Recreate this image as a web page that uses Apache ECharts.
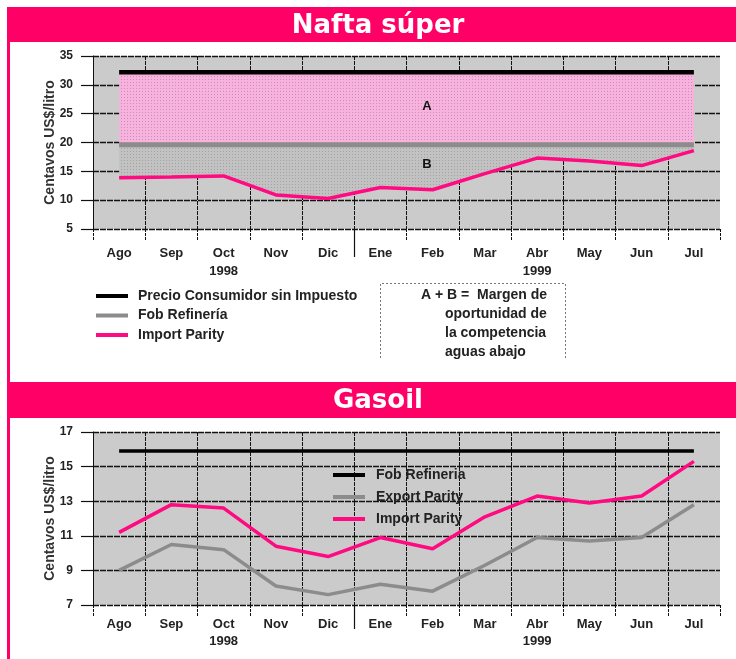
<!DOCTYPE html>
<html>
<head>
<meta charset="utf-8">
<script src="https://cdn.jsdelivr.net/npm/echarts@6/dist/echarts.min.js"></script>
<style>
  html, body { margin: 0; padding: 0; background: #fff; }
  #chart { width: 736px; height: 659px; }
</style>
</head>
<body>
<div id="chart"></div>
<script>
// Months, Aug 1998 – Jul 1999
const months = ['Ago', 'Sep', 'Oct\n1998', 'Nov', 'Dic', 'Ene', 'Feb', 'Mar', 'Abr\n1999', 'May', 'Jun', 'Jul'];
const yearBreak = 'Ene';

// Nafta súper, centavos US$/litro
const naftaPrecio = [32.2, 32.2, 32.2, 32.2, 32.2, 32.2, 32.2, 32.2, 32.2, 32.2, 32.2, 32.2];
const naftaFob = [19.6, 19.6, 19.6, 19.6, 19.6, 19.6, 19.6, 19.6, 19.6, 19.6, 19.6, 19.6];
const naftaImport = [13.9, 14.0, 14.2, 10.9, 10.3, 12.2, 11.8, 14.6, 17.3, 16.8, 16.0, 18.6];

// Gasoil, centavos US$/litro
const gasoilFob = [15.9, 15.9, 15.9, 15.9, 15.9, 15.9, 15.9, 15.9, 15.9, 15.9, 15.9, 15.9];
const gasoilExport = [9.0, 10.5, 10.2, 8.1, 7.6, 8.2, 7.8, 9.3, 10.9, 10.7, 10.9, 12.8];
const gasoilImport = [11.2, 12.8, 12.6, 10.4, 9.8, 10.9, 10.25, 12.1, 13.3, 12.9, 13.3, 15.3];

// Axis ranges
const naftaAxis = { min: 5, max: 35, interval: 5 };
const gasoilAxis = { min: 7, max: 17, interval: 2 };

const PINK = '#ff0066';
const LINE_PINK = '#ff0a80';
const FOB_GRAY = '#8c8c8c';
const PLOT_BG = '#cbcbcb';
const FONT = '"Liberation Sans", Arial, Helvetica, sans-serif';

// small dotted screen textures for the A / B areas
function dotPattern(bg, dot) {
  const c = document.createElement('canvas');
  c.width = 3; c.height = 3;
  const g = c.getContext('2d');
  g.fillStyle = bg; g.fillRect(0, 0, 3, 3);
  g.fillStyle = dot; g.fillRect(1, 1, 1, 1);
  return { image: c, repeat: 'repeat' };
}
const pinkScreen = dotPattern('#f9b2dc', '#b994c4');
const grayScreen = dotPattern('#c2c2c2', '#a2a2a2');

const breakIndex = months.indexOf(yearBreak);

function catAxis(gridIndex, margin, lineHeight) {
  return {
    type: 'category', gridIndex, data: months, boundaryGap: true,
    axisLine: { show: false },
    axisTick: { show: true, length: 12, lineStyle: { color: '#111', width: 1, type: [3, 1] } },
    axisLabel: { margin, fontFamily: FONT, fontSize: 13, fontWeight: 'bold', color: '#222', lineHeight },
    splitLine: { show: true, showMaxLine: false, lineStyle: { color: '#111', width: 1, type: [4, 1] } }
  };
}
function breakAxis(gridIndex, len) {
  return {
    type: 'value', gridIndex, position: 'bottom', min: 0, max: months.length,
    axisLine: { show: false }, axisLabel: { show: false }, splitLine: { show: false },
    axisTick: { show: true, length: len, customValues: [breakIndex], lineStyle: { color: '#111', width: 1.2 } }
  };
}
function valAxis(gridIndex, range) {
  return {
    type: 'value', gridIndex, min: range.min, max: range.max, interval: range.interval,
    name: 'Centavos US$/litro', nameLocation: 'middle', nameGap: 36, nameMoveOverlap: false,
    nameTextStyle: { fontFamily: FONT, fontSize: 14, fontWeight: 'bold', color: '#333' },
    axisLine: { show: true, lineStyle: { color: '#111', width: 1, type: [4, 1] } },
    axisTick: { show: true, length: 12, lineStyle: { color: '#111', width: 1.2 } },
    axisLabel: { margin: 20, fontFamily: FONT, fontSize: 12, fontWeight: 'bold', color: '#222' },
    splitLine: { show: true, lineStyle: { color: '#121212', width: 1.4, type: [6, 1] } }
  };
}

const legendText = { fontFamily: FONT, fontSize: 14, fontWeight: 'bold', color: '#222', lineHeight: 16 };

const chart = echarts.init(document.getElementById('chart'), null, { renderer: 'canvas' });
chart.setOption({
  animation: false,
  backgroundColor: '#fff',
  grid: [
    { left: 93, top: 56, width: 627, height: 173, show: true, backgroundColor: PLOT_BG, borderWidth: 0 },
    { left: 93, top: 432, width: 627, height: 173, show: true, backgroundColor: PLOT_BG, borderWidth: 0 }
  ],
  xAxis: [catAxis(0, 15, 18), breakAxis(0, 28), catAxis(1, 11, 17), breakAxis(1, 24)],
  yAxis: [valAxis(0, naftaAxis), valAxis(1, gasoilAxis)],
  legend: [
    {
      orient: 'vertical', left: 96, top: 288, padding: 0, itemWidth: 32, itemHeight: 4, itemGap: 3.5,
      icon: 'rect', selectedMode: false,
      textStyle: Object.assign({ padding: [0, 0, 0, 5] }, legendText),
      data: [
        { name: 'Precio Consumidor sin Impuesto', itemStyle: { color: '#000' } },
        { name: 'Fob Refinería', itemStyle: { color: FOB_GRAY } },
        { name: 'Import Parity', itemStyle: { color: LINE_PINK } }
      ]
    },
    {
      orient: 'vertical', left: 333, top: 467, padding: 0, itemWidth: 32, itemHeight: 4, itemGap: 6,
      icon: 'rect', selectedMode: false,
      textStyle: Object.assign({ padding: [0, 0, 0, 6] }, legendText),
      data: [
        { name: 'Fob Refineria', itemStyle: { color: '#000' } },
        { name: 'Export Parity', itemStyle: { color: FOB_GRAY } },
        { name: 'Import Parity', itemStyle: { color: LINE_PINK } }
      ]
    }
  ],
  series: [
    // Nafta: stacked so that B fills Import→Fob and A fills Fob→Precio
    {
      name: 'Import Parity', type: 'line', xAxisIndex: 0, yAxisIndex: 0, stack: 'nafta',
      data: naftaImport, symbol: 'none', z: 4,
      itemStyle: { color: LINE_PINK }, lineStyle: { color: LINE_PINK, width: 3.5 }
    },
    {
      name: 'Fob Refinería', type: 'line', xAxisIndex: 0, yAxisIndex: 0, stack: 'nafta',
      data: naftaFob.map((v, i) => v - naftaImport[i]), symbol: 'none', z: 3,
      itemStyle: { color: FOB_GRAY }, lineStyle: { color: FOB_GRAY, width: 5 },
      areaStyle: { color: grayScreen, opacity: 1 }
    },
    {
      name: 'Precio Consumidor sin Impuesto', type: 'line', xAxisIndex: 0, yAxisIndex: 0, stack: 'nafta',
      data: naftaPrecio.map((v, i) => v - naftaFob[i]), symbol: 'none', z: 2,
      itemStyle: { color: '#000' }, lineStyle: { color: '#000', width: 4.5 },
      areaStyle: { color: pinkScreen, opacity: 1 }
    },
    // Gasoil
    {
      name: 'Fob Refineria', type: 'line', xAxisIndex: 2, yAxisIndex: 1,
      data: gasoilFob, symbol: 'none', z: 3,
      itemStyle: { color: '#000' }, lineStyle: { color: '#000', width: 3.5 }
    },
    {
      name: 'Export Parity', type: 'line', xAxisIndex: 2, yAxisIndex: 1,
      data: gasoilExport, symbol: 'none', z: 3,
      itemStyle: { color: FOB_GRAY }, lineStyle: { color: FOB_GRAY, width: 3.5 }
    },
    {
      name: 'Import Parity', type: 'line', xAxisIndex: 2, yAxisIndex: 1,
      data: gasoilImport, symbol: 'none', z: 4,
      itemStyle: { color: LINE_PINK }, lineStyle: { color: LINE_PINK, width: 3.5 }
    }
  ],
  graphic: [
    // page frame and title bands
    { type: 'rect', shape: { x: 7, y: 7, width: 3, height: 652 }, style: { fill: PINK }, silent: true },
    { type: 'rect', shape: { x: 7, y: 7, width: 729, height: 35 }, style: { fill: PINK }, silent: true },
    { type: 'rect', shape: { x: 7, y: 382, width: 729, height: 36 }, style: { fill: PINK }, silent: true },
    { type: 'text', x: 378, y: 26, silent: true,
      style: { text: 'Nafta súper', fill: '#fff', fontFamily: '"DejaVu Sans", Verdana, sans-serif', fontSize: 26, fontWeight: 'bold', align: 'center', verticalAlign: 'middle' } },
    { type: 'text', x: 378, y: 401, silent: true,
      style: { text: 'Gasoil', fill: '#fff', fontFamily: '"DejaVu Sans", Verdana, sans-serif', fontSize: 26, fontWeight: 'bold', align: 'center', verticalAlign: 'middle' } },
    // area labels
    { type: 'text', x: 427, y: 106, z: 10, silent: true,
      style: { text: 'A', fill: '#111', fontFamily: FONT, fontSize: 13, fontWeight: 'bold', align: 'center', verticalAlign: 'middle' } },
    { type: 'text', x: 427, y: 164, z: 10, silent: true,
      style: { text: 'B', fill: '#111', fontFamily: FONT, fontSize: 13, fontWeight: 'bold', align: 'center', verticalAlign: 'middle' } },
    // note box
    { type: 'polyline', silent: true,
      shape: { points: [[380.5, 358], [380.5, 283.5], [565.5, 283.5], [565.5, 358]] },
      style: { fill: null, stroke: '#777', lineWidth: 1, lineDash: [2, 2] } },
    { type: 'text', x: 421, y: 295, silent: true,
      style: { text: 'A + B =  Margen de', fill: '#222', fontFamily: FONT, fontSize: 14, fontWeight: 'bold', align: 'left', verticalAlign: 'middle' } },
    { type: 'text', x: 445, y: 305, silent: true,
      style: { text: 'oportunidad de\nla competencia\naguas abajo', fill: '#222', fontFamily: FONT, fontSize: 14, fontWeight: 'bold', lineHeight: 19, align: 'left', verticalAlign: 'top' } }
  ]
});
</script>
</body>
</html>
